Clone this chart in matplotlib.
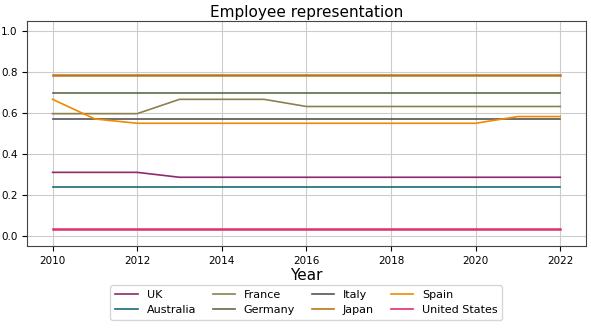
import matplotlib
matplotlib.use("Agg")
import matplotlib.pyplot as plt

years = list(range(2010, 2023))
uk = [0.31, 0.31, 0.31] + [0.286] * 10
australia = [0.24] * 13
france = [0.597, 0.597, 0.597, 0.667, 0.667, 0.667] + [0.632] * 7
germany = [0.70] * 13
italy = [0.571] * 13
japan = [0.786] * 13
spain = [0.667, 0.571] + [0.55] * 9 + [0.583, 0.583]
us = [0.034] * 13

series = [
    ("UK", uk, "#8E2A6A"),
    ("Australia", australia, "#1A6B73"),
    ("France", france, "#8C8050"),
    ("Germany", germany, "#5B6E45"),
    ("Italy", italy, "#555555"),
    ("Japan", japan, "#B8781A"),
    ("Spain", spain, "#F08A00"),
    ("United States", us, "#E0306A"),
]

fig = plt.figure(figsize=(5.91, 3.28), dpi=100)
ax = fig.add_axes([0.046, 0.25, 0.945, 0.686])
for name, vals, color in series:
    lw = 1.8 if name in ("United States", "Japan") else 1.2
    ax.plot(years, vals, color=color, lw=lw, label=name)

ax.set_ylim(-0.05, 1.05)
ax.set_xticks([2010, 2012, 2014, 2016, 2018, 2020, 2022])
ax.set_yticks([0.0, 0.2, 0.4, 0.6, 0.8, 1.0])
ax.tick_params(labelsize=7.5)
ax.grid(True, color="#cccccc", lw=0.8)
for s in ax.spines.values():
    s.set_color("#444444")
ax.set_title("Employee representation", fontsize=11, pad=3)
ax.set_xlabel("Year", fontsize=11, labelpad=2)
leg = ax.legend(loc="upper center", bbox_to_anchor=(0.5, -0.15), ncol=4,
                fontsize=8, frameon=True, columnspacing=1.5, handlelength=2.0,
                labelspacing=0.45, borderpad=0.45)
for h in leg.get_lines():
    h.set_linewidth(1.2)
fig.savefig("out.png", dpi=100)
